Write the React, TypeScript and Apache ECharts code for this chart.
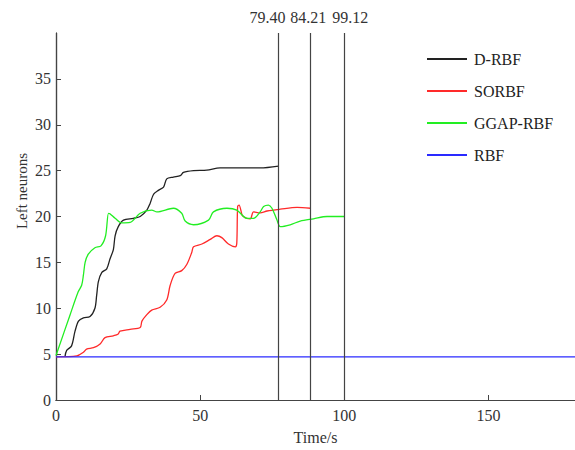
import React, { useEffect, useRef } from 'react';
import * as echarts from 'echarts';

const seriesNames = ['D-RBF', 'SORBF', 'GGAP-RBF', 'RBF'];
const seriesColors = ['#222222', '#ff2a2a', '#22ee22', '#2a2aff'];

const dRbfTime = [3.1, 3.7, 5.4, 6.6, 7.8, 9.5, 11.8, 13.5, 14.1, 14.7, 15.9, 17.6, 18.75, 19.9, 20.5, 21.6, 23.4, 26.8, 29.2, 31.5, 32.6, 33.8, 35.5, 37.3, 38.4, 40.7, 43.1, 44.2, 47.7, 52.3, 56.9, 63.9, 70.8, 77.2];
const dRbfValue = [4.7, 5.4, 5.9, 7.5, 8.6, 8.95, 9.1, 10.0, 11.4, 12.9, 13.9, 14.3, 15.4, 16.4, 17.9, 18.9, 19.6, 19.8, 20.0, 20.7, 21.4, 22.4, 22.85, 23.2, 24.1, 24.3, 24.45, 24.8, 25.0, 25.05, 25.3, 25.3, 25.3, 25.5];

const sorbfTime = [0, 7.2, 9.5, 10.6, 13, 15.3, 17, 19.9, 21.6, 22.2, 25.7, 29.2, 29.8, 31.5, 33.2, 36.1, 38.4, 39.6, 41.3, 43.6, 45.4, 47.1, 47.7, 50.6, 53.5, 55.8, 57.5, 59.8, 62.2, 62.7, 63.0, 63.5, 64.5, 65.0, 66.2, 67.4, 68.5, 70.8, 73.2, 77.8, 83.6, 88.2];
const sorbfValue = [4.7, 4.8, 5.2, 5.55, 5.7, 6.1, 6.8, 7.0, 7.2, 7.5, 7.7, 7.9, 8.6, 9.3, 9.8, 10.1, 10.9, 12.5, 13.8, 14.1, 14.8, 16.1, 16.7, 17.0, 17.5, 17.9, 17.7, 17.0, 16.7, 17.1, 21.1, 21.25, 20.2, 20.0, 19.8, 19.75, 20.5, 20.4, 20.6, 20.8, 21.0, 20.9];

const ggapTime = [0, 4.9, 7.7, 8.9, 9.5, 10.1, 11.2, 13.5, 15.6, 17.2, 18.2, 18.7, 20.5, 22.8, 25.7, 29.2, 33.2, 35, 40.7, 43.6, 44.8, 47.7, 52.9, 54.6, 59.3, 62.7, 66.2, 68.5, 70.8, 72, 73.7, 74.9, 76.6, 77.8, 81.2, 84.7, 89.3, 94, 100];
const ggapValue = [4.85, 9.3, 11.8, 12.5, 13.6, 15.0, 15.9, 16.6, 16.8, 17.9, 20.35, 20.3, 19.8, 19.3, 19.35, 20.35, 20.7, 20.5, 20.9, 20.35, 19.5, 19.1, 19.6, 20.5, 20.9, 20.7, 19.8, 19.8, 20.5, 21.1, 21.25, 20.9, 19.65, 18.9, 19.1, 19.5, 19.75, 20.0, 20.0];

const rbfTime = [0, 180];
const rbfValue = [4.7, 4.7];

const endTimes = [77.2, 88.2, 100];
const endLabels = ['79.40', '84.21', '99.12'];
const endLabelShift = [-11, -2, 6];

const FONT = "'Liberation Serif', 'DejaVu Serif', serif";

function pairs(t: number[], v: number[]) {
  return t.map((x, i) => [x, v[i]]);
}

export default function App() {
  const ref = useRef<HTMLDivElement>(null);
  useEffect(() => {
    const chart = echarts.init(ref.current!, null, { renderer: 'svg' });
    const allData = [
      pairs(dRbfTime, dRbfValue),
      pairs(sorbfTime, sorbfValue),
      pairs(ggapTime, ggapValue),
      pairs(rbfTime, rbfValue),
    ];
    const series: any[] = allData.map((d, i) => ({
      name: seriesNames[i],
      type: 'line',
      data: d,
      smooth: i === 3 ? false : 0.3,
      symbol: 'none',
      showSymbol: false,
      lineStyle: { color: seriesColors[i], width: 1.3 },
      itemStyle: { color: seriesColors[i] },
      z: 3,
    }));
    series.push({
      name: 'ends',
      type: 'line',
      data: [],
      silent: true,
      markLine: {
        silent: true,
        symbol: ['none', 'none'],
        lineStyle: { color: '#444', width: 1.2, type: 'solid' },
        label: {
          show: true,
          position: 'end',
          distance: 8,
          fontFamily: FONT,
          fontSize: 16,
          color: '#333',
        },
        data: endTimes.map((x, i) => ({
          xAxis: x,
          label: { formatter: endLabels[i], offset: [endLabelShift[i], 0] },
        })),
      },
    });
    chart.setOption({
      animation: false,
      backgroundColor: '#ffffff',
      grid: { left: 56, right: 0, top: 33, height: 374, containLabel: false },
      legend: {
        data: seriesNames.map((n) => ({ name: n, icon: 'rect' })),
        orient: 'vertical',
        left: 422,
        top: 46,
        itemWidth: 40,
        itemHeight: 2,
        itemGap: 16,
        textStyle: { fontFamily: FONT, fontSize: 16, color: '#222', padding: [0, 0, 0, 2] },
      },
      xAxis: [
        {
          type: 'value',
          min: 0,
          max: 180,
          interval: 50,
          position: 'bottom',
          name: 'Time/s',
          nameLocation: 'middle',
          nameGap: 29,
          nameTextStyle: { fontFamily: FONT, fontSize: 16, color: '#333' },
          axisLine: { show: true, lineStyle: { color: '#444', width: 1.2 } },
          axisTick: { show: true, inside: true, length: 5, lineStyle: { color: '#444' } },
          axisLabel: { showMaxLabel: false, margin: 7, fontFamily: FONT, fontSize: 16, color: '#333' },
          splitLine: { show: false },
        },
        {
          type: 'value',
          min: 0,
          max: 180,
          position: 'top',
          axisLine: { show: true, lineStyle: { color: '#444', width: 1.2 } },
          axisTick: { show: false },
          axisLabel: { show: false },
          splitLine: { show: false },
        },
      ],
      yAxis: [
        {
          type: 'value',
          min: 0,
          max: 40,
          interval: 5,
          axisLine: { show: true, lineStyle: { color: '#444', width: 1.2 } },
          axisTick: { show: true, inside: true, length: 5, lineStyle: { color: '#444' } },
          axisLabel: { showMaxLabel: false, margin: 5, fontFamily: FONT, fontSize: 16, color: '#333' },
          splitLine: { show: false },
        },
        {
          type: 'value',
          min: 0,
          max: 40,
          position: 'right',
          axisLine: { show: true, lineStyle: { color: '#444', width: 1.2 } },
          axisTick: { show: false },
          axisLabel: { show: false },
          splitLine: { show: false },
        },
      ],
      graphic: [
        {
          type: 'text',
          x: 22,
          y: 191,
          rotation: Math.PI / 2,
          style: {
            text: 'Left neurons',
            font: `15px ${FONT}`,
            fill: '#333',
            align: 'center',
            verticalAlign: 'middle',
          },
        },
      ],
      series,
    });
    return () => chart.dispose();
  }, []);
  return <div ref={ref} style={{ position: 'fixed', left: 0, top: 0, width: 575, height: 450 }} />;
}
